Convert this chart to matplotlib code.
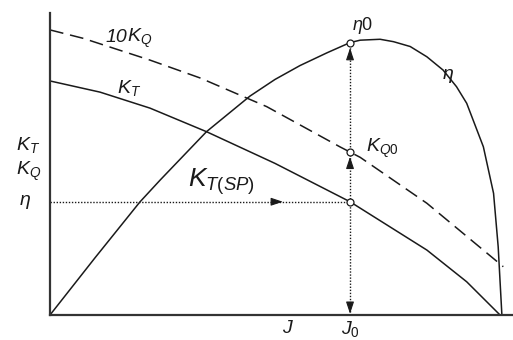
import matplotlib
matplotlib.use("Agg")
import matplotlib.pyplot as plt

# advance coefficient J (0 at the origin, 1 at the right end of the axis)
J_ETA = [0.0, 0.097, 0.194, 0.238, 0.338, 0.432, 0.486, 0.540, 0.598, 0.648, 0.670,
         0.713, 0.742, 0.778, 0.814, 0.849, 0.878, 0.900, 0.936, 0.958, 0.968, 0.976]
ETA = [0.0, 0.189, 0.374, 0.447, 0.607, 0.725, 0.780, 0.826, 0.868, 0.902, 0.910,
       0.913, 0.905, 0.889, 0.855, 0.811, 0.756, 0.701, 0.557, 0.403, 0.226, 0.0]

J_KT = [0.0, 0.108, 0.216, 0.338, 0.486, 0.648, 0.814, 0.900, 0.972]
KT = [0.775, 0.738, 0.685, 0.607, 0.502, 0.375, 0.215, 0.110, 0.0]

J_KQ = [0.0, 0.072, 0.216, 0.324, 0.468, 0.626, 0.670, 0.814, 0.979]
KQ10 = [0.944, 0.916, 0.844, 0.785, 0.690, 0.557, 0.522, 0.370, 0.160]

J0 = 0.648
ETA0 = 0.902
KQ0 = 0.540
KT_SP = 0.375

INK = "#1a1a1a"
AXIS = "#333333"

plt.rcParams["mathtext.fontset"] = "custom"
plt.rcParams["mathtext.rm"] = "Liberation Sans"
plt.rcParams["mathtext.it"] = "Liberation Sans:italic"
plt.rcParams["font.family"] = "Liberation Sans"

fig = plt.figure(figsize=(5.13, 3.40), dpi=100, facecolor="white")
ax = fig.add_axes([50 / 513, 25 / 340, 463 / 513, 302 / 340])
ax.set_xlim(0, 1)
ax.set_ylim(0, 1)
for side in ("top", "right"):
    ax.spines[side].set_visible(False)
for side in ("left", "bottom"):
    ax.spines[side].set_linewidth(1.6)
    ax.spines[side].set_color(AXIS)
ax.set_xticks([])
ax.set_yticks([])

ax.plot(J_ETA, ETA, color=INK, lw=1.1, solid_joinstyle="round")
ax.plot(J_KT, KT, color=INK, lw=1.1, solid_joinstyle="round")
ax.plot(J_KQ, KQ10, color=INK, lw=1.1, ls=(0, (9, 4.5)))

# guide lines
ax.plot([J0, J0], [0, ETA0], color=INK, lw=1.0, ls=(0, (1, 1.2)))
ax.plot([0, J0], [KT_SP, KT_SP], color=INK, lw=1.0, ls=(0, (1, 1.2)))

head = dict(arrowstyle="-|>,head_length=0.6,head_width=0.2", color=INK,
            lw=0.8, mutation_scale=12, shrinkA=0, shrinkB=0)
ax.annotate("", xy=(J0, ETA0 - 0.018), xytext=(0, -7.5), textcoords="offset points", arrowprops=head)
ax.annotate("", xy=(J0, KQ0 - 0.016), xytext=(0, -7.5), textcoords="offset points", arrowprops=head)
ax.annotate("", xy=(J0, 0.004), xytext=(0, 7.5), textcoords="offset points", arrowprops=head)
ax.annotate("", xy=(0.503, KT_SP), xytext=(-7.5, 0), textcoords="offset points", arrowprops=head)

ax.plot([J0, J0, J0], [ETA0, KQ0, KT_SP], ls="none", marker="o", ms=5,
        mfc="white", mec=INK, mew=0.9, zorder=5)

# "10" set in italic as plain text, K_Q follows it in mathtext
ax.text(0.166, 0.903, "10", fontsize=14, fontstyle="italic", color=INK, ha="right", va="baseline")
ax.text(0.166, 0.903, r"$K_Q$", fontsize=14, color=INK, ha="left", va="baseline")
ax.text(0.171, 0.752, r"$K_T$", fontsize=14, color=INK, ha="center", va="center")
ax.text(0.370, 0.440, r"$K_{T(SP)}$", fontsize=19, color=INK, ha="center", va="center")
ax.text(J0 + 0.028, 0.958, r"$\eta$0", fontsize=13, color=INK, ha="center", va="center")
ax.text(0.717, 0.553, r"$K_{Q0}$", fontsize=14, color=INK, ha="center", va="center")
ax.text(0.860, 0.790, r"$\eta$", fontsize=14, color=INK, ha="center", va="center")

ax.text(-0.047, 0.563, r"$K_T$", fontsize=14, color=INK, ha="center", va="center", clip_on=False)
ax.text(-0.047, 0.474, r"$K_Q$", fontsize=14, color=INK, ha="center", va="center", clip_on=False)
ax.text(-0.054, 0.374, r"$\eta$", fontsize=14, color=INK, ha="center", va="center", clip_on=False)
ax.text(0.514, -0.045, r"$J$", fontsize=14, color=INK, ha="center", va="center", clip_on=False)
ax.text(J0, -0.045, r"$J_0$", fontsize=14, color=INK, ha="center", va="center", clip_on=False)

fig.savefig("out.png", dpi=100, facecolor="white")
